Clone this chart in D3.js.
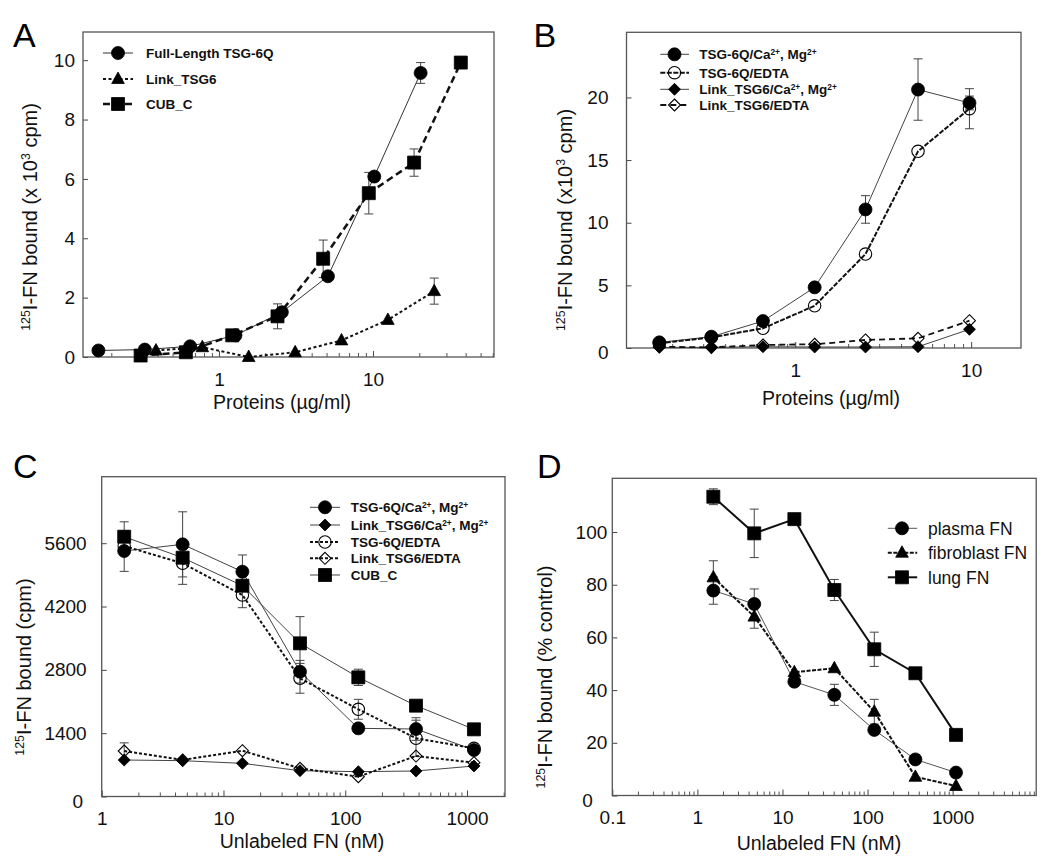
<!DOCTYPE html>
<html><head><meta charset="utf-8">
<script src="https://cdn.jsdelivr.net/npm/d3@7"></script>
<style>body{margin:0;background:#fff}svg{display:block}</style>
</head><body><svg id="c" width="1050" height="865"></svg>
<script>
// ---------- Panel A data ----------
const aFullX = [0.165, 0.33, 0.65, 1.28, 2.56, 5.1, 10.2, 20.4];
const aFullY = [0.22, 0.25, 0.36, 0.73, 1.51, 2.72, 6.08, 9.57];
const aFullErr = [0, 0, 0, 0, 0, 0, 0, 0.35];
const aLinkX = [0.39, 0.78, 1.56, 3.125, 6.25, 12.5, 25];
const aLinkY = [0.22, 0.33, 0.0, 0.16, 0.56, 1.25, 2.22];
const aLinkErr = [0, 0, 0, 0, 0, 0, 0.44];
const aCubX = [0.31, 0.61, 1.22, 2.4, 4.75, 9.4, 18.5, 37.2];
const aCubY = [0.05, 0.16, 0.73, 1.37, 3.31, 5.52, 6.55, 9.92];
const aCubErr = [0, 0, 0, 0.42, 0.63, 0.7, 0.46, 0];
const aYTicks = [0, 2, 4, 6, 8, 10];
const aXTicks = [1, 10];
const aLegend = ["Full-Length TSG-6Q", "Link_TSG6", "CUB_C"];

// ---------- Panel B data ----------
const bX = [0.169, 0.334, 0.656, 1.29, 2.51, 4.99, 9.78];
const bTsgCaY = [0.45, 0.9, 2.15, 4.84, 11.06, 20.63, 19.56];
const bTsgCaErr = [0, 0, 0, 0, 1.1, 2.45, 0.55];
const bTsgEdtaY = [0.37, 0.85, 1.57, 3.37, 7.5, 15.7, 19.1];
const bTsgEdtaErr = [0, 0, 0, 0, 0, 0, 1.6];
const bLinkCaY = [0.05, 0.05, 0.1, 0.08, 0.08, 0.1, 1.49];
const bLinkEdtaY = [0.1, 0.05, 0.24, 0.3, 0.64, 0.77, 2.18];
const bYTicks = [0, 5, 10, 15, 20];
const bXTicks = [1, 10];

// ---------- Panel C data ----------
const cX = [1.53, 4.62, 14.3, 42.5, 128, 381, 1140];
const cTsgCaY = [5427, 5574, 4970, 2759, 1507, 1492, 1028];
const cTsgCaErr = [450, 720, 370, 250, 0, 250, 0];
const cLinkCaY = [807, 792, 733, 571, 549, 564, 674];
const cTsgEdtaY = [5537, 5155, 4454, 2613, 1928, 1287, 1065];
const cTsgEdtaErr = [0, 465, 280, 330, 220, 400, 0];
const cLinkEdtaY = [1006, 807, 1013, 623, 438, 895, 747];
const cLinkEdtaErr = [180, 0, 0, 0, 0, 0, 0];
const cCubY = [5743, 5279, 4660, 3386, 2634, 2008, 1485];
const cCubErr = [330, 0, 0, 590, 180, 0, 0];
const cYTicks = [0, 1400, 2800, 4200, 5600];
const cXTicks = [1, 10, 100, 1000];

// ---------- Panel D data ----------
const dX = [1.54, 4.66, 13.8, 40.7, 120, 365, 1096];
const dPlasmaY = [77.8, 72.7, 43.2, 38.2, 24.9, 13.7, 8.7];
const dPlasmaErr = [5.2, 5.7, 0, 4, 0, 0, 0];
const dFibroY = [82.8, 67.9, 46.8, 48.3, 31.8, 7.1, 3.6];
const dFibroErr = [6.3, 4.4, 0, 0, 4.7, 0, 0];
const dLungY = [113.4, 99.5, 104.9, 78, 55.5, 46.4, 23];
const dLungErr = [3, 9.2, 0, 4, 6.5, 0, 0];
const dYTicks = [0, 20, 40, 60, 80, 100];
const dXTicks = [0.1, 1, 10, 100, 1000];
const dLegend = ["plasma FN", "fibroblast FN", "lung FN"];

// ---------- drawing ----------
const FONT = '"Liberation Sans", Arial, Helvetica, sans-serif';
const svg = d3.select('#c');

function minorTicks(lo, hi) {
  const out = [];
  for (let e = -2; e <= 4; e++) for (let m = 2; m <= 9; m++) {
    const v = +(m * Math.pow(10, e)).toPrecision(3);
    if (v >= lo && v <= hi) out.push(v);
  }
  return out;
}

function markerPath(type, s) {
  if (type === 'circle') return `M${-s},0a${s},${s} 0 1,0 ${2*s},0a${s},${s} 0 1,0 ${-2*s},0Z`;
  if (type === 'square') return `M${-s},${-s}h${2*s}v${2*s}h${-2*s}Z`;
  if (type === 'triangle') return `M0,${-s*1.15}L${s*1.05},${s*0.75}L${-s*1.05},${s*0.75}Z`;
  if (type === 'diamond') return `M0,${-s}L${s},0L0,${s}L${-s},0Z`;
}

function addRich(textSel, parts) {
  parts.forEach(([t, sup]) => {
    const ts = textSel.append('tspan').text(t);
    if (sup) ts.attr('font-size', '62%').attr('baseline-shift', '55%');
  });
}

function drawMarker(g, s, cx, cy) {
  g.append('path').attr('d', markerPath(s.marker, s.size))
    .attr('transform', `translate(${cx},${cy})`)
    .attr('fill', s.filled ? '#000' : 'none')
    .attr('stroke', '#000').attr('stroke-width', s.filled ? 0.8 : 1.1);
}

function drawPanel(p) {
  const x = d3.scaleLog().domain(p.xDomain).range([p.left, p.right]);
  const y = d3.scaleLinear().domain(p.yDomain).range([p.bottom, p.top]);
  const g = svg.append('g');

  // x minor ticks (inward)
  g.append('g').attr('transform', `translate(0,${p.bottom})`)
    .call(d3.axisBottom(x).tickValues(minorTicks(p.xDomain[0], p.xDomain[1])).tickSize(-4).tickFormat(''))
    .attr('color', '#555')
    .call(s => s.select('.domain').remove());
  // x major ticks + labels
  const xa = g.append('g').attr('transform', `translate(0,${p.bottom})`)
    .call(d3.axisBottom(x).tickValues(p.xTicks).tickSize(-6).tickPadding(15.5).tickFormat(d => String(d)))
    .attr('color', '#444').attr('font-size', 19).attr('font-family', FONT);
  xa.select('.domain').remove();
  xa.selectAll('text').attr('fill', '#111');
  // y ticks + labels
  const ya = g.append('g').attr('transform', `translate(${p.left},0)`)
    .call(d3.axisLeft(y).tickValues(p.yTicks).tickSize(-5).tickPadding(p.yGap).tickFormat(d => String(d)))
    .attr('color', '#444').attr('font-size', 19).attr('font-family', FONT);
  ya.select('.domain').remove();
  ya.selectAll('text').attr('fill', '#111');
  ya.selectAll('.tick').filter(d => d === 0).select('text')
    .attr('dx', p.zeroDx || 0).attr('transform', `translate(0,${p.zeroDy || 0})`);

  // frame
  g.append('rect').attr('x', p.left).attr('y', p.top)
    .attr('width', p.right - p.left).attr('height', p.bottom - p.top)
    .attr('fill', 'none').attr('stroke', '#555').attr('stroke-width', 1.3);

  // error bars
  p.series.forEach(s => {
    s.xs.forEach((xv, i) => {
      const e = s.errs ? s.errs[i] : 0;
      if (!e) return;
      const cx = x(xv), y1 = y(s.ys[i] - e), y2 = y(s.ys[i] + e);
      const eb = g.append('g').attr('stroke', '#444').attr('stroke-width', 1);
      eb.append('line').attr('x1', cx).attr('x2', cx).attr('y1', y1).attr('y2', y2);
      eb.append('line').attr('x1', cx - 4.5).attr('x2', cx + 4.5).attr('y1', y1).attr('y2', y1);
      eb.append('line').attr('x1', cx - 4.5).attr('x2', cx + 4.5).attr('y1', y2).attr('y2', y2);
    });
  });
  // lines
  const line = d3.line().x(d => x(d[0])).y(d => y(d[1]));
  p.series.forEach(s => {
    g.append('path').attr('d', line(s.xs.map((xv, i) => [xv, s.ys[i]])))
      .attr('fill', 'none').attr('stroke', s.color).attr('stroke-width', s.width)
      .attr('stroke-dasharray', s.dash || null);
  });
  // markers
  p.series.forEach(s => {
    s.xs.forEach((xv, i) => drawMarker(g, s, x(xv), y(s.ys[i])));
  });

  // legend
  const L = p.legend;
  p.series.forEach((s, i) => {
    const ry = L.rows[i];
    g.append('line').attr('x1', L.x1).attr('x2', L.x2).attr('y1', ry).attr('y2', ry)
      .attr('stroke', s.color).attr('stroke-width', s.width).attr('stroke-dasharray', s.dash || null);
    drawMarker(g, s, L.mx, ry);
    const t = g.append('text').attr('x', L.tx).attr('y', ry + L.fs * 0.36)
      .attr('font-family', FONT).attr('font-size', L.fs).attr('font-weight', L.bold ? 'bold' : 'normal')
      .attr('fill', '#111');
    addRich(t, s.label);
  });

  // panel letter
  g.append('text').attr('x', p.letter[0]).attr('y', p.letter[1]).text(p.letter[2])
    .attr('font-family', FONT).attr('font-size', 34).attr('fill', '#000');
  // x title
  g.append('text').attr('x', p.xTitle[0]).attr('y', p.xTitle[1]).attr('text-anchor', 'middle')
    .attr('font-family', FONT).attr('font-size', 19.5).attr('fill', '#111').text(p.xTitle[2]);
  // y title
  const yt = g.append('text').attr('transform', `translate(${p.yTitle[0]},${p.yTitle[1]}) rotate(-90)`)
    .attr('text-anchor', 'middle').attr('font-family', FONT).attr('font-size', 20).attr('fill', '#111');
  addRich(yt, p.yTitle[2]);
}

// ---------- Panel A ----------
drawPanel({
  left: 83, right: 494, top: 32, bottom: 357,
  xDomain: [0.131, 61.1], yDomain: [0, 10.95],
  xTicks: aXTicks, yTicks: aYTicks, yGap: 8,
  series: [
    { label: [[aLegend[0], 0]], xs: aFullX, ys: aFullY, errs: aFullErr, marker: 'circle', size: 6.5, filled: true, color: '#333', width: 1 },
    { label: [[aLegend[1], 0]], xs: aLinkX, ys: aLinkY, errs: aLinkErr, marker: 'triangle', size: 6, filled: true, color: '#111', width: 2, dash: '3,2.5' },
    { label: [[aLegend[2], 0]], xs: aCubX, ys: aCubY, errs: aCubErr, marker: 'square', size: 6.5, filled: true, color: '#111', width: 2.5, dash: '7,4' }
  ],
  legend: { rows: [53, 79, 104], x1: 103, x2: 133, mx: 118, tx: 146, fs: 13.5, bold: true },
  letter: [13, 47, 'A'],
  xTitle: [282, 409, 'Proteins (µg/ml)'],
  yTitle: [37, 217, [['125', 1], ['I-FN bound (x 10', 0], ['3', 1], [' cpm)', 0]]]
});

// ---------- Panel B ----------
drawPanel({
  left: 626.5, right: 1021, top: 32.3, bottom: 348,
  xDomain: [0.110, 19.2], yDomain: [0, 25.2],
  xTicks: bXTicks, yTicks: bYTicks, yGap: 18, zeroDy: 4.5,
  series: [
    { label: [['TSG-6Q/Ca', 0], ['2+', 1], [', Mg', 0], ['2+', 1]], xs: bX, ys: bTsgCaY, errs: bTsgCaErr, marker: 'circle', size: 6.5, filled: true, color: '#444', width: 1 },
    { label: [['TSG-6Q/EDTA', 0]], xs: bX, ys: bTsgEdtaY, errs: bTsgEdtaErr, marker: 'circle', size: 6.2, filled: false, color: '#111', width: 2, dash: '5,1.5' },
    { label: [['Link_TSG6/Ca', 0], ['2+', 1], [', Mg', 0], ['2+', 1]], xs: bX, ys: bLinkCaY, errs: null, marker: 'diamond', size: 6, filled: true, color: '#444', width: 1 },
    { label: [['Link_TSG6/EDTA', 0]], xs: bX, ys: bLinkEdtaY, errs: null, marker: 'diamond', size: 6, filled: false, color: '#111', width: 1.8, dash: '6,4' }
  ],
  legend: { rows: [54.3, 72.7, 89.3, 105], x1: 660.3, x2: 689, mx: 674.5, tx: 699.2, fs: 13.5, bold: true },
  letter: [533.5, 47, 'B'],
  xTitle: [831, 405, 'Proteins (µg/ml)'],
  yTitle: [572, 220, [['125', 1], ['I-FN bound (x10', 0], ['3', 1], [' cpm)', 0]]]
});

// ---------- Panel C ----------
drawPanel({
  left: 101.7, right: 505, top: 476.7, bottom: 796.5,
  xDomain: [1, 2050], yDomain: [0, 7070],
  xTicks: cXTicks, yTicks: cYTicks, yGap: 15, zeroDx: -3.5, zeroDy: 5,
  series: [
    { label: [['TSG-6Q/Ca', 0], ['2+', 1], [', Mg', 0], ['2+', 1]], xs: cX, ys: cTsgCaY, errs: cTsgCaErr, marker: 'circle', size: 6.5, filled: true, color: '#444', width: 1 },
    { label: [['Link_TSG6/Ca', 0], ['2+', 1], [', Mg', 0], ['2+', 1]], xs: cX, ys: cLinkCaY, errs: null, marker: 'diamond', size: 6, filled: true, color: '#444', width: 1 },
    { label: [['TSG-6Q/EDTA', 0]], xs: cX, ys: cTsgEdtaY, errs: cTsgEdtaErr, marker: 'circle', size: 6.2, filled: false, color: '#111', width: 2, dash: '3,2' },
    { label: [['Link_TSG6/EDTA', 0]], xs: cX, ys: cLinkEdtaY, errs: cLinkEdtaErr, marker: 'diamond', size: 6, filled: false, color: '#111', width: 2, dash: '3,2' },
    { label: [['CUB_C', 0]], xs: cX, ys: cCubY, errs: cCubErr, marker: 'square', size: 6.5, filled: true, color: '#444', width: 1 }
  ],
  legend: { rows: [507.3, 525, 542, 558.3, 575], x1: 310, x2: 340, mx: 325, tx: 350.7, fs: 13.5, bold: true },
  letter: [13, 478, 'C'],
  xTitle: [302, 848, 'Unlabeled FN (nM)'],
  yTitle: [31, 667, [['125', 1], ['I-FN bound (cpm)', 0]]]
});

// ---------- Panel D ----------
drawPanel({
  left: 612.3, right: 1036.2, top: 478.3, bottom: 795.5,
  xDomain: [0.1, 9600], yDomain: [0, 120.4],
  xTicks: dXTicks, yTicks: dYTicks, yGap: 5, zeroDx: -14.5, zeroDy: 5,
  series: [
    { label: [[dLegend[0], 0]], xs: dX, ys: dPlasmaY, errs: dPlasmaErr, marker: 'circle', size: 6.5, filled: true, color: '#555', width: 1 },
    { label: [[dLegend[1], 0]], xs: dX, ys: dFibroY, errs: dFibroErr, marker: 'triangle', size: 6, filled: true, color: '#111', width: 2, dash: '4,1.5' },
    { label: [[dLegend[2], 0]], xs: dX, ys: dLungY, errs: dLungErr, marker: 'square', size: 6.5, filled: true, color: '#111', width: 2 }
  ],
  legend: { rows: [528.3, 552.7, 577.3], x1: 887.8, x2: 917.2, mx: 902, tx: 928, fs: 17.5, bold: false },
  letter: [537, 478, 'D'],
  xTitle: [819, 850, 'Unlabeled FN (nM)'],
  yTitle: [551.5, 677, [['125', 1], ['I-FN bound (% control)', 0]]]
});
</script></body></html>
